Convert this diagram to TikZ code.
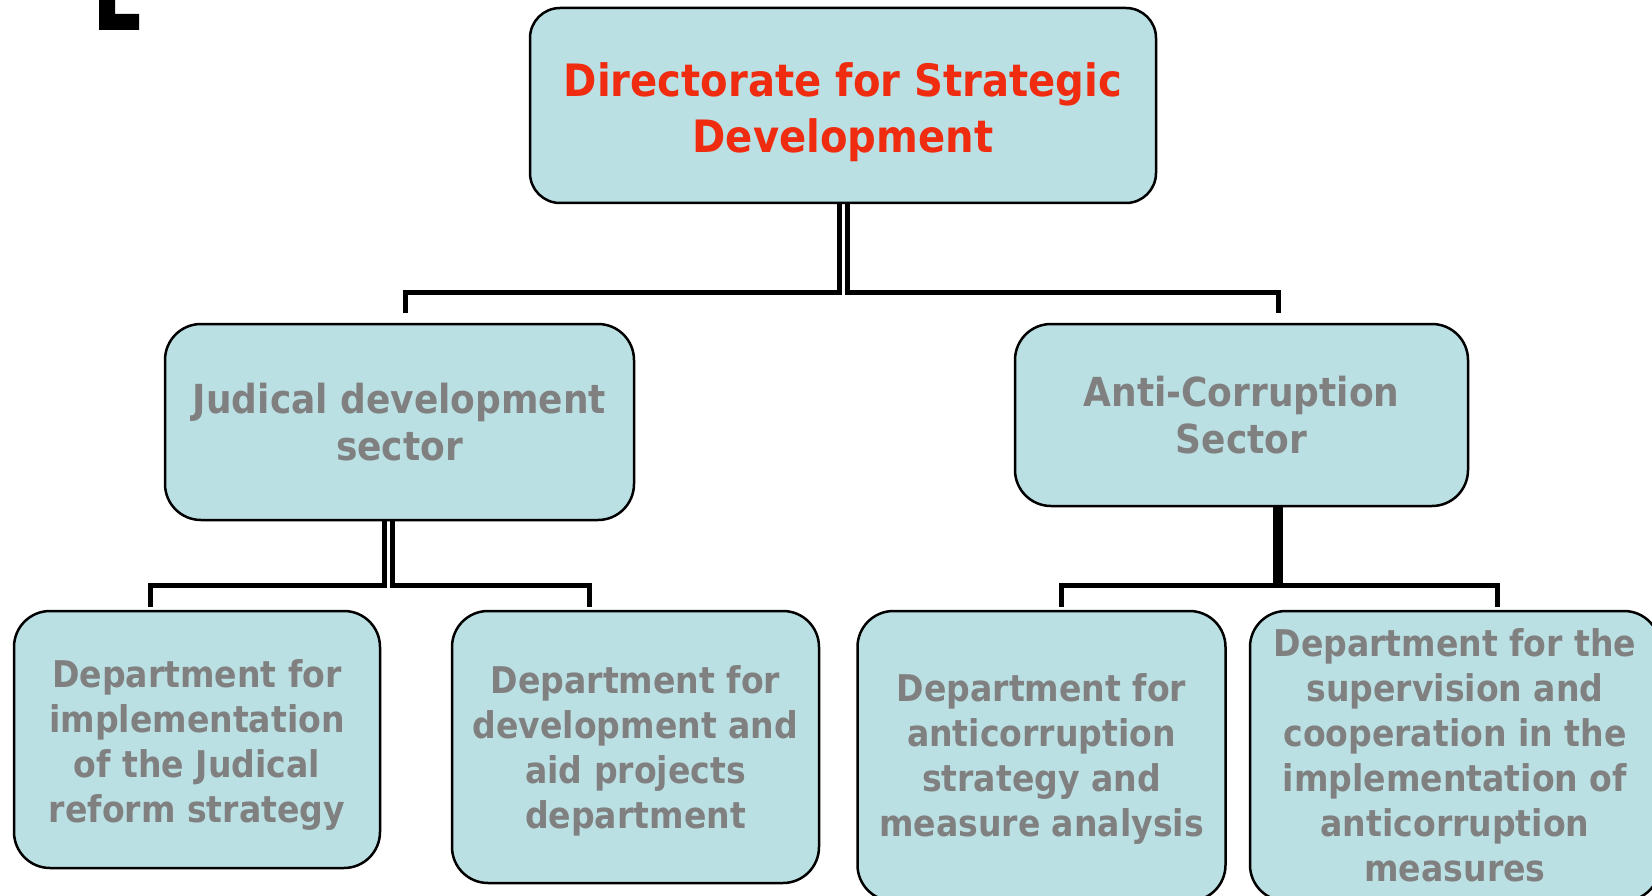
\documentclass[tikz,border=0pt]{standalone}
\usepackage{fontspec}
\setmainfont{DejaVu Sans Condensed}
\usetikzlibrary{calc}
\definecolor{boxfill}{RGB}{187,224,228}
\definecolor{titlered}{RGB}{240,44,16}
\definecolor{txtgray}{RGB}{128,128,128}
\newcommand\boxtext[2]{\raisebox{#1}[\height][\depth]{\begin{tabular}{@{}c@{}}#2\end{tabular}}}
\tikzset{
  box/.style={draw=black, line width=2.5pt, fill=boxfill, rounded corners=36pt, inner sep=0pt, align=center, text=txtgray},
  midfont/.style={font=\bfseries\fontsize{40}{47}\selectfont},
  lowfont/.style={font=\bfseries\fontsize{36.8}{45}\selectfont},
  conn/.style={draw=black, line width=5pt, line join=miter, shorten >=3pt},
}
\begin{document}
\begin{tikzpicture}[x=1pt,y=-1pt]
\useasboundingbox (0,0) rectangle (1652,896);
\clip (0,0) rectangle (1652,896);
\fill[black] (99,0) -- (115,0) -- (115,14) -- (139,14) -- (139,30) -- (99,30) -- cycle;
\node[box, rounded corners=30pt, minimum width=626pt, minimum height=195pt, text=titlered, font=\bfseries\fontsize{44.6}{56}\selectfont] (top) at (843,105.5) {\boxtext{-7.4pt}{Directorate for Strategic\\Development}};
\node[box, midfont, minimum width=469pt, minimum height=196pt] (jud) at (399.5,422) {\boxtext{-5.3pt}{Judical development\\sector}};
\node[box, midfont, minimum width=453pt, minimum height=182pt] (ac) at (1241.5,415) {\boxtext{-5.3pt}{Anti-Corruption\\Sector}};
\node[box, lowfont, minimum width=366pt, minimum height=257pt] (b1) at (197,739.5) {\boxtext{-6.4pt}{Department for\\implementation\\of the Judical\\reform strategy}};
\node[box, lowfont, minimum width=367pt, minimum height=272pt] (b2) at (635.5,747) {\boxtext{-5.3pt}{Department for\\development and\\aid projects\\department}};
\node[box, lowfont, minimum width=368pt, minimum height=290pt] (b3) at (1041.5,756) {\boxtext{-4.3pt}{Department for\\anticorruption\\strategy and\\measure analysis}};
\node[box, lowfont, minimum width=410pt, minimum height=290pt] (b4) at (1455,756) {\boxtext{-4.2pt}{Department for the\\supervision and\\cooperation in the\\implementation of\\anticorruption\\measures}};
\draw[conn, shorten >=10pt] ([xshift=-4pt]top.south) -- ++(0,88.5) -| ([xshift=5.5pt]jud.north);
\draw[conn, shorten >=10pt] ([xshift=4pt]top.south) -- ++(0,88.5) -| ([xshift=36.5pt]ac.north);
\draw[conn] ([xshift=-15pt]jud.south) -- ++(0,64) -| ([xshift=-47pt]b1.north);
\draw[conn] ([xshift=-7.5pt]jud.south) -- ++(0,64) -| ([xshift=-46.5pt]b2.north);
\draw[conn] ([xshift=34pt]ac.south) -- ++(0,78.5) -| ([xshift=19.5pt]b3.north);
\draw[conn] ([xshift=39pt]ac.south) -- ++(0,78.5) -| ([xshift=42pt]b4.north);
\end{tikzpicture}
\end{document}
